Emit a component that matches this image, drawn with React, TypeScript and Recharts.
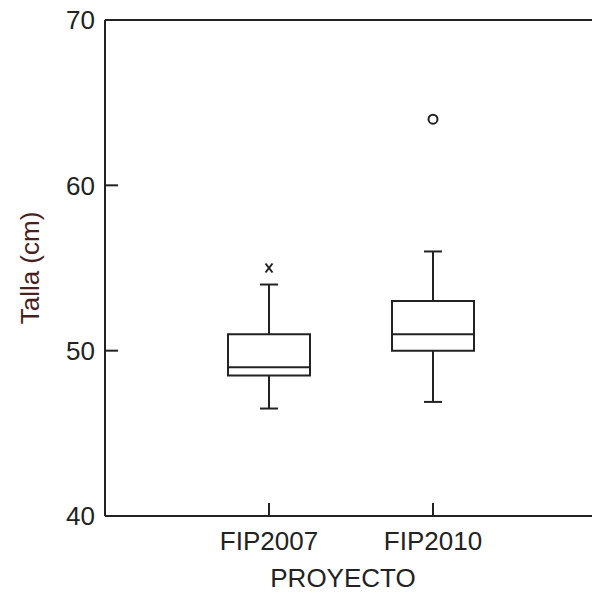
import React from 'react';
import {
  ComposedChart, XAxis, YAxis, ReferenceArea, ReferenceLine, Scatter,
} from 'recharts';

// two projects, boxplot summary of size (cm)
const categories = ['FIP2007', 'FIP2010'];
const positions = [1, 2];
const whiskerLow = [46.5, 46.9];
const q1 = [48.5, 50];
const median = [49, 51];
const q3 = [51, 53];
const whiskerHigh = [54, 56];
const outliers = [
  { x: 1, y: 55, mark: 'x' },
  { x: 2, y: 64, mark: 'o' },
];
const yTicks = [40, 50, 60, 70];

const INK = '#222';
const FONT = '"Liberation Sans", Arial, sans-serif';
const BOX_HALF = 0.25;
const CAP_HALF = 0.055;

const OutlierShape = (props: any) => {
  const { cx, cy, payload } = props;
  if (cx == null || cy == null) return null;
  if (payload.mark === 'o') {
    return <circle cx={cx} cy={cy} r={4.5} fill="none" stroke={INK} strokeWidth={2} />;
  }
  return (
    <g stroke={INK} strokeWidth={2} fill="none">
      <path d={`M${cx - 3.5},${cy - 4.5} L${cx + 3.5},${cy + 4.5}`} />
      <path d={`M${cx + 3.5},${cy - 4.5} L${cx - 3.5},${cy + 4.5}`} />
    </g>
  );
};

export default function App() {
  const line = { stroke: INK, strokeWidth: 2 };
  return (
    <div style={{ position: 'absolute', left: 0, top: 0, width: 592, height: 594, overflow: 'hidden', background: '#fff' }}>
      <ComposedChart width={600} height={594} margin={{ top: 0, right: 0, bottom: 0, left: 0 }} style={{ fontFamily: FONT }}>
        <XAxis
          xAxisId={0}
          dataKey="x"
          type="number"
          domain={[0, 3]}
          ticks={positions}
          tickFormatter={(v: number) => categories[positions.indexOf(v)] ?? ''}
          height={78}
          tickSize={-13}
          tickMargin={28.5}
          axisLine={{ stroke: INK, strokeWidth: 2 }}
          tickLine={{ stroke: INK, strokeWidth: 2 }}
          tick={{ fill: INK, fontSize: 26 }}
          label={{ value: 'PROYECTO', position: 'insideBottom', offset: 7, dx: -8, fill: INK, fontSize: 26 }}
        />
        <XAxis
          xAxisId="top"
          orientation="top"
          type="number"
          domain={[0, 3]}
          ticks={positions}
          tickFormatter={() => ''}
          height={20}
          tickSize={-13}
          axisLine={{ stroke: INK, strokeWidth: 2 }}
          tickLine={{ stroke: INK, strokeWidth: 2 }}
        />
        <YAxis
          yAxisId={0}
          type="number"
          domain={[40, 70]}
          ticks={yTicks}
          width={105}
          tickSize={-13}
          tickMargin={23}
          axisLine={{ stroke: INK, strokeWidth: 2 }}
          tickLine={{ stroke: INK, strokeWidth: 2 }}
          tick={{ fill: INK, fontSize: 26 }}
          label={{ value: 'Talla (cm)', angle: -90, position: 'insideLeft', offset: 30, fill: '#4a1f1f', fontSize: 26, style: { textAnchor: 'middle' } }}
        />
        <YAxis
          yAxisId="right"
          orientation="right"
          type="number"
          domain={[40, 70]}
          ticks={yTicks}
          width={3}
          tickSize={-13}
          tickFormatter={() => ''}
          axisLine={{ stroke: INK, strokeWidth: 2 }}
          tickLine={{ stroke: INK, strokeWidth: 2 }}
        />

        {positions.map((p, i) => (
          <ReferenceArea
            key={`box-${i}`}
            x1={p - BOX_HALF}
            x2={p + BOX_HALF}
            y1={q1[i]}
            y2={q3[i]}
            fill="none"
            fillOpacity={0}
            stroke={INK}
            strokeWidth={2}
            strokeOpacity={1}
          />
        ))}
        {positions.map((p, i) => (
          <ReferenceLine key={`med-${i}`} segment={[{ x: p - BOX_HALF, y: median[i] }, { x: p + BOX_HALF, y: median[i] }]} {...line} />
        ))}
        {positions.map((p, i) => (
          <ReferenceLine key={`wh-${i}`} segment={[{ x: p, y: q3[i] }, { x: p, y: whiskerHigh[i] }]} {...line} />
        ))}
        {positions.map((p, i) => (
          <ReferenceLine key={`wl-${i}`} segment={[{ x: p, y: q1[i] }, { x: p, y: whiskerLow[i] }]} {...line} />
        ))}
        {positions.map((p, i) => (
          <ReferenceLine key={`ch-${i}`} segment={[{ x: p - CAP_HALF, y: whiskerHigh[i] }, { x: p + CAP_HALF, y: whiskerHigh[i] }]} {...line} />
        ))}
        {positions.map((p, i) => (
          <ReferenceLine key={`cl-${i}`} segment={[{ x: p - CAP_HALF, y: whiskerLow[i] }, { x: p + CAP_HALF, y: whiskerLow[i] }]} {...line} />
        ))}

        <Scatter data={outliers} dataKey="y" shape={<OutlierShape />} isAnimationActive={false} />
      </ComposedChart>
    </div>
  );
}
